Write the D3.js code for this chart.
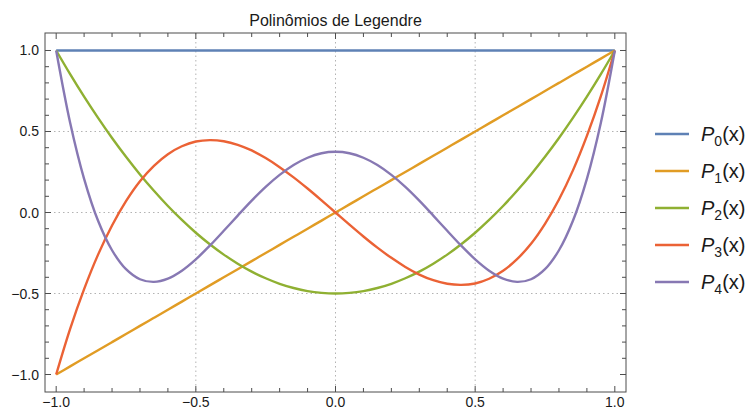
<!DOCTYPE html>
<html>
<head>
<meta charset="utf-8">
<script src="https://cdn.jsdelivr.net/npm/d3@7"></script>
<style>
    body { margin: 0; background: #fff; }
    text { font-family: "Liberation Sans", Arial, sans-serif; }
</style>
</head>
<body>
<svg id="chart" width="752" height="410"></svg>
<script>
const xs = [-1, -0.95, -0.9, -0.85, -0.8, -0.75, -0.7, -0.65, -0.6, -0.55, -0.5,
    -0.45, -0.4, -0.35, -0.3, -0.25, -0.2, -0.15, -0.1, -0.05, 0,
    0.05, 0.1, 0.15, 0.2, 0.25, 0.3, 0.35, 0.4, 0.45, 0.5,
    0.55, 0.6, 0.65, 0.7, 0.75, 0.8, 0.85, 0.9, 0.95, 1];

const p0 = [1, 1, 1, 1, 1, 1, 1, 1, 1, 1, 1,
    1, 1, 1, 1, 1, 1, 1, 1, 1, 1,
    1, 1, 1, 1, 1, 1, 1, 1, 1, 1,
    1, 1, 1, 1, 1, 1, 1, 1, 1, 1];
const p1 = [-1, -0.95, -0.9, -0.85, -0.8, -0.75, -0.7, -0.65, -0.6, -0.55, -0.5,
    -0.45, -0.4, -0.35, -0.3, -0.25, -0.2, -0.15, -0.1, -0.05, 0,
    0.05, 0.1, 0.15, 0.2, 0.25, 0.3, 0.35, 0.4, 0.45, 0.5,
    0.55, 0.6, 0.65, 0.7, 0.75, 0.8, 0.85, 0.9, 0.95, 1];
const p2 = [1, 0.854, 0.715, 0.584, 0.46, 0.344, 0.235, 0.134, 0.04, -0.046, -0.125,
    -0.196, -0.26, -0.316, -0.365, -0.406, -0.44, -0.466, -0.485, -0.496, -0.5,
    -0.496, -0.485, -0.466, -0.44, -0.406, -0.365, -0.316, -0.26, -0.196, -0.125,
    -0.046, 0.04, 0.134, 0.235, 0.344, 0.46, 0.584, 0.715, 0.854, 1];
const p3 = [-1, -0.718, -0.473, -0.26, -0.08, 0.07, 0.193, 0.288, 0.36, 0.409, 0.438,
    0.447, 0.44, 0.418, 0.383, 0.336, 0.28, 0.217, 0.148, 0.075, 0,
    -0.075, -0.148, -0.217, -0.28, -0.336, -0.383, -0.418, -0.44, -0.447, -0.438,
    -0.409, -0.36, -0.288, -0.193, -0.07, 0.08, 0.26, 0.473, 0.718, 1];
const p4 = [1, 0.554, 0.208, -0.051, -0.233, -0.35, -0.412, -0.428, -0.408, -0.359, -0.289,
    -0.205, -0.113, -0.019, 0.073, 0.158, 0.232, 0.293, 0.338, 0.366, 0.375,
    0.366, 0.338, 0.293, 0.232, 0.158, 0.073, -0.019, -0.113, -0.205, -0.289,
    -0.359, -0.408, -0.428, -0.412, -0.35, -0.233, -0.051, 0.208, 0.554, 1];

const names = ['0', '1', '2', '3', '4'];
const colors = ['#5e81b5', '#e19c24', '#8fb032', '#eb6235', '#8778b3'];
const majorTicks = [-1, -0.5, 0, 0.5, 1];
const gridTicks = [-0.5, 0, 0.5];
const title = 'Polinômios de Legendre';

const series = [p0, p1, p2, p3, p4].map((vals, i) => {
    return { name: names[i], color: colors[i], points: xs.map((x, j) => ({ x: x, y: vals[j] })) };
});

const svg = d3.select('#chart');
const fLeft = 45, fRight = 626, fTop = 33, fBottom = 392;

const x = d3.scaleLinear().domain([-1.04, 1.04]).range([fLeft, fRight]);
const y = d3.scaleLinear().domain([-1.108, 1.108]).range([fBottom, fTop]);

const minorTicks = d3.range(-10, 11).map(d => d / 10).filter(d => Math.abs(d * 2 - Math.round(d * 2)) > 1e-6);
const fmt = d3.format('.1f');

// grid
svg.append('g').selectAll('line')
    .data(gridTicks).join('line')
    .attr('x1', d => x(d)).attr('x2', d => x(d))
    .attr('y1', fTop).attr('y2', fBottom)
    .attr('stroke', '#b3b3b3').attr('stroke-width', 1)
    .attr('stroke-dasharray', '1.5,3');
svg.append('g').selectAll('line')
    .data(gridTicks).join('line')
    .attr('y1', d => y(d)).attr('y2', d => y(d))
    .attr('x1', fLeft).attr('x2', fRight)
    .attr('stroke', '#b3b3b3').attr('stroke-width', 1)
    .attr('stroke-dasharray', '1.5,3');

// curves
const line = d3.line()
    .x(d => x(d.x))
    .y(d => y(d.y))
    .curve(d3.curveCatmullRom);

const plot = svg.append('g');
series.forEach(s => {
    plot.append('path')
        .datum(s.points)
        .attr('fill', 'none')
        .attr('stroke', s.color)
        .attr('stroke-width', 2.4)
        .attr('stroke-linejoin', 'round')
        .attr('d', line);
});

// frame with inward ticks on all four sides
const frameColor = '#4d4d4d';
svg.append('rect')
    .attr('x', fLeft).attr('y', fTop)
    .attr('width', fRight - fLeft).attr('height', fBottom - fTop)
    .attr('fill', 'none').attr('stroke', frameColor).attr('stroke-width', 1);

function ticksX(vals, len, ypos, dir) {
    svg.append('g').selectAll('line')
        .data(vals).join('line')
        .attr('x1', d => x(d)).attr('x2', d => x(d))
        .attr('y1', ypos).attr('y2', ypos + dir * len)
        .attr('stroke', frameColor).attr('stroke-width', 1);
}
function ticksY(vals, len, xpos, dir) {
    svg.append('g').selectAll('line')
        .data(vals).join('line')
        .attr('y1', d => y(d)).attr('y2', d => y(d))
        .attr('x1', xpos).attr('x2', xpos + dir * len)
        .attr('stroke', frameColor).attr('stroke-width', 1);
}
ticksX(majorTicks, 6, fBottom, -1);
ticksX(minorTicks, 4, fBottom, -1);
ticksX(majorTicks, 6, fTop, 1);
ticksX(minorTicks, 4, fTop, 1);
ticksY(majorTicks, 6, fLeft, 1);
ticksY(minorTicks, 4, fLeft, 1);
ticksY(majorTicks, 6, fRight, -1);
ticksY(minorTicks, 4, fRight, -1);

// tick labels
svg.append('g').selectAll('text')
    .data(majorTicks).join('text')
    .attr('x', d => x(d)).attr('y', 407)
    .attr('text-anchor', 'middle')
    .style('font-size', '14px').attr('fill', '#1a1a1a')
    .text(d => fmt(d));
svg.append('g').selectAll('text')
    .data(majorTicks).join('text')
    .attr('x', 39).attr('y', d => y(d) + 5)
    .attr('text-anchor', 'end')
    .style('font-size', '14px').attr('fill', '#1a1a1a')
    .text(d => fmt(d));

// title
svg.append('text')
    .attr('x', (fLeft + fRight) / 2).attr('y', 26)
    .attr('text-anchor', 'middle')
    .style('font-size', '16px').attr('fill', '#1a1a1a')
    .text(title);

// legend
const legend = svg.append('g');
series.forEach((s, i) => {
    const ly = 134 + i * 37;
    legend.append('line')
        .attr('x1', 655).attr('x2', 689)
        .attr('y1', ly).attr('y2', ly)
        .attr('stroke', s.color).attr('stroke-width', 2.4);
    const t = legend.append('text')
        .attr('x', 701).attr('y', ly + 7)
        .style('font-size', '20px').attr('fill', '#1a1a1a');
    t.append('tspan').style('font-style', 'italic').text('P');
    t.append('tspan').attr('dy', 5).style('font-size', '14px').text(s.name);
    t.append('tspan').attr('dy', -5).text('(x)');
});
</script>
</body>
</html>
